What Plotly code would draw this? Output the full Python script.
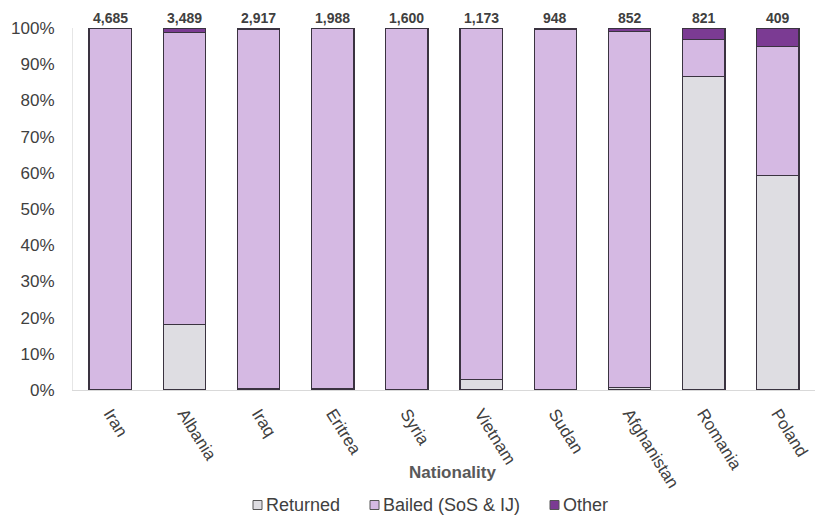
import plotly.graph_objects as go

# Share of outcomes by nationality (percent of each nationality's total)
nationalities = ["Iran", "Albania", "Iraq", "Eritrea", "Syria",
                 "Vietnam", "Sudan", "Afghanistan", "Romania", "Poland"]
returned = [0.2, 18.0, 0.3, 0.3, 0.1, 2.9, 0.1, 0.7, 86.6, 59.3]
bailed = [99.6, 80.7, 99.4, 99.5, 99.8, 96.9, 99.4, 98.3, 10.3, 35.5]
other = [0.2, 1.3, 0.3, 0.2, 0.1, 0.2, 0.5, 1.0, 3.1, 5.2]
totals = ["4,685", "3,489", "2,917", "1,988", "1,600",
          "1,173", "948", "852", "821", "409"]
pct_ticks = list(range(0, 101, 10))
pct_labels = [f"{v}%" for v in pct_ticks]

series = [
    ("Returned", returned, "#dedde2"),
    ("Bailed (SoS & IJ)", bailed, "#d5b9e3"),
    ("Other", other, "#7b3b93"),
]

FONT = "Liberation Sans, Arial"
OUTLINE = "#3a3340"

W, H = 818, 516
M_L, M_R, M_T, M_B = 73, 3, 28, 126
plot_w = W - M_L - M_R
plot_h = H - M_T - M_B


def px_to_paper_x(px):
    return (px - M_L) / plot_w


def px_to_paper_y(py):
    return (H - M_B - py) / plot_h


fig = go.Figure()
for name, vals, colour in series:
    fig.add_trace(go.Bar(
        name=name, x=nationalities, y=vals,
        marker=dict(color=colour, line=dict(color=OUTLINE, width=1.3)),
        hoverinfo="skip", showlegend=False,
    ))

# Totals printed above each column
for nat, tot in zip(nationalities, totals):
    fig.add_annotation(
        x=nat, y=100, yref="y", text=f"<b>{tot}</b>", showarrow=False,
        yanchor="bottom", yshift=0,
        font=dict(family=FONT, size=14, color="#404040"),
    )

# Axis title drawn below the rotated tick labels
fig.add_annotation(
    x=px_to_paper_x(452), y=px_to_paper_y(472), xref="paper", yref="paper",
    text="<b>Nationality</b>", showarrow=False, yanchor="middle",
    font=dict(family=FONT, size=17, color="#595959"),
)

# Compact legend row: small outlined swatch followed by the series name
legend_x = [253, 370, 550]
legend_y = 505
sw = 9
for (name, _, colour), lx in zip(series, legend_x):
    fig.add_shape(
        type="rect", xref="paper", yref="paper",
        x0=px_to_paper_x(lx), x1=px_to_paper_x(lx + sw),
        y0=px_to_paper_y(legend_y + sw / 2), y1=px_to_paper_y(legend_y - sw / 2),
        fillcolor=colour, line=dict(color="#555555", width=1),
    )
    fig.add_annotation(
        x=px_to_paper_x(lx + sw + 2), y=px_to_paper_y(legend_y),
        xref="paper", yref="paper", text=name, showarrow=False,
        xanchor="left", yanchor="middle",
        font=dict(family=FONT, size=18, color="#404040"),
    )

fig.update_layout(
    width=W, height=H,
    margin=dict(l=M_L, r=M_R, t=M_T, b=M_B, autoexpand=False),
    barmode="stack", bargap=0.43,
    plot_bgcolor="white", paper_bgcolor="white",
    font=dict(family=FONT, size=17, color="#404040"),
    showlegend=False,
    xaxis=dict(
        tickangle=58, showline=True, linecolor="#d9d9d9", linewidth=1,
        ticks="", tickfont=dict(size=17, color="#404040"),
        automargin=False, ticklabelstandoff=6,
    ),
    yaxis=dict(
        range=[0, 100], tickvals=pct_ticks, ticktext=pct_labels,
        showgrid=False, showline=True, linecolor="#e6e6e6", linewidth=1,
        zeroline=False, tickfont=dict(size=17, color="#404040"),
        automargin=False, ticklabelstandoff=14,
    ),
)

fig.write_html("out.html")
